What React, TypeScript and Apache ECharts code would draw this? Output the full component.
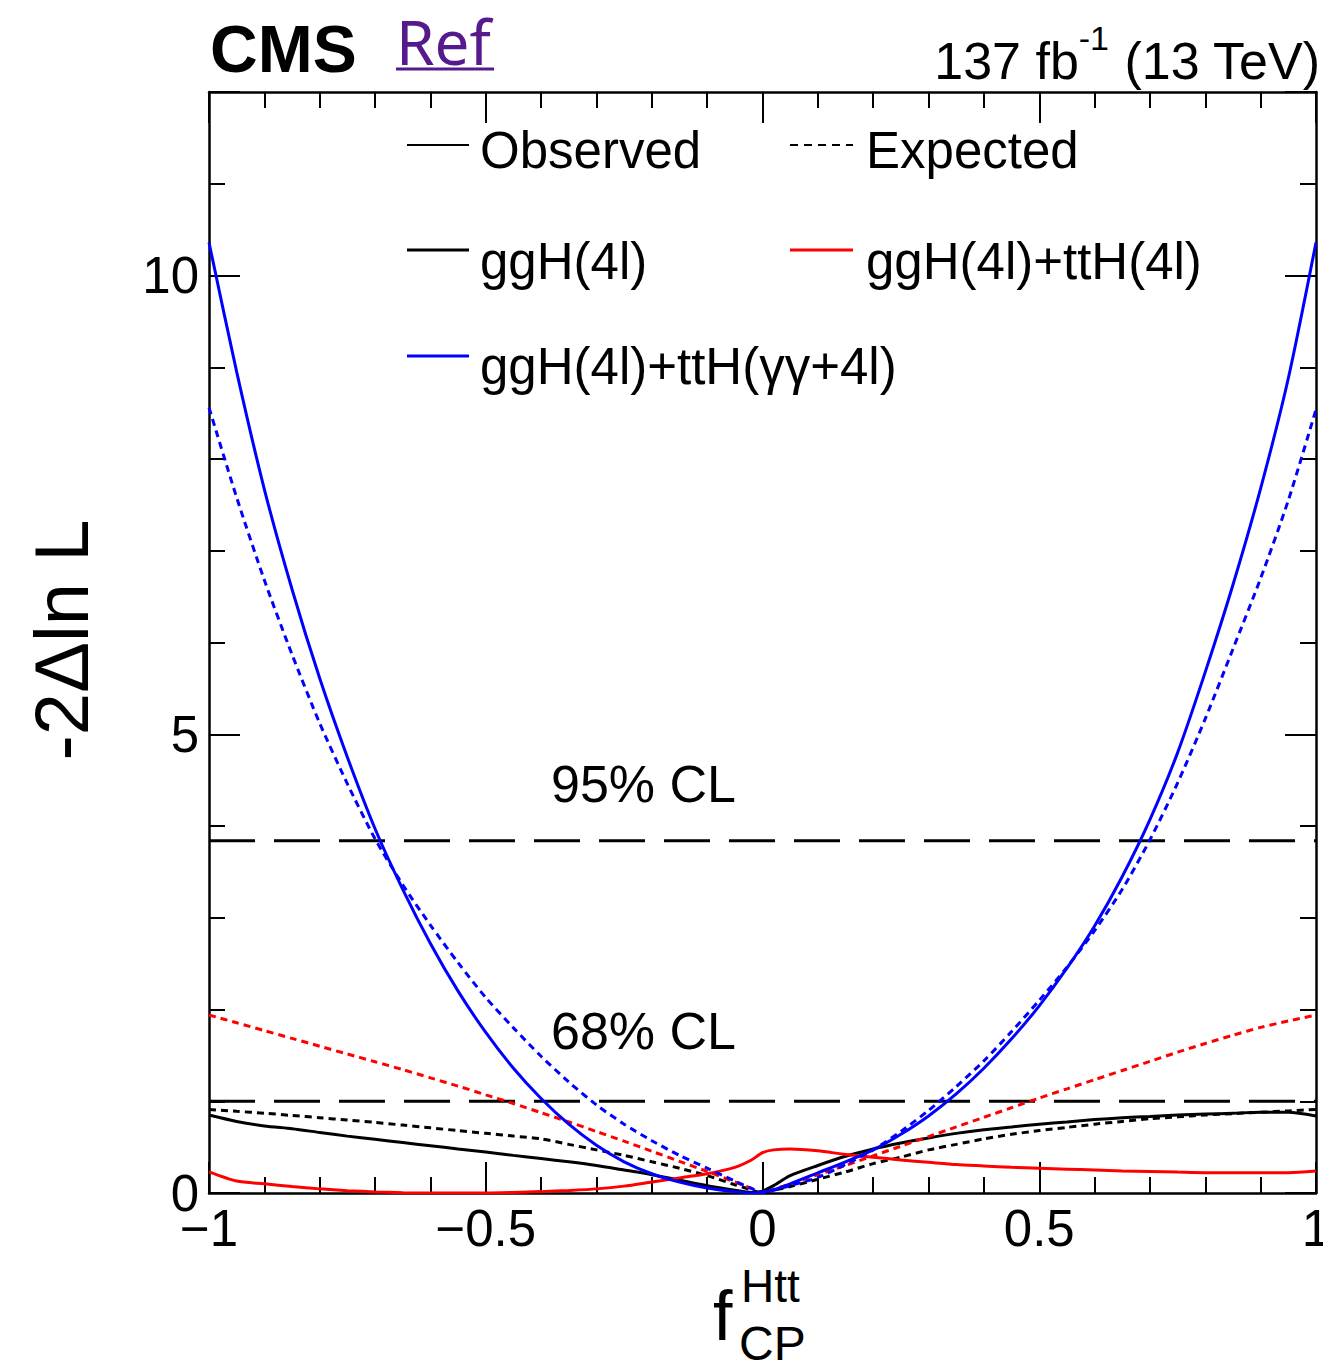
import React, { useEffect, useRef } from "react";
import * as echarts from "echarts";

// f_CP^Htt grid
const FCP = [
  -1, -0.95, -0.9, -0.85, -0.8, -0.75, -0.7, -0.65, -0.6, -0.55, -0.5, -0.45, -0.4, -0.35, -0.3, -0.25,
  -0.2, -0.15, -0.1, -0.05, -0.02, 0, 0.02, 0.05, 0.1, 0.15, 0.2, 0.25, 0.3, 0.35, 0.4, 0.45, 0.5, 0.55,
  0.6, 0.65, 0.7, 0.75, 0.8, 0.85, 0.9, 0.95, 1,
];

// ggH(4l) observed (black solid)
const OBS_GGH = [
  0.85, 0.78, 0.73, 0.7, 0.66, 0.62, 0.585, 0.55, 0.515, 0.48, 0.447, 0.41, 0.375, 0.34, 0.3, 0.25,
  0.2, 0.14, 0.08, 0.03, 0.005, 0.02, 0.08, 0.19, 0.3, 0.4, 0.48, 0.545, 0.6, 0.65, 0.69, 0.72, 0.75, 0.775,
  0.8, 0.82, 0.835, 0.85, 0.86, 0.87, 0.88, 0.88, 0.84,
];
// ggH(4l) expected (black dotted)
const EXP_GGH = [
  0.91, 0.89, 0.87, 0.845, 0.82, 0.795, 0.77, 0.74, 0.71, 0.68, 0.65, 0.62, 0.59, 0.53, 0.47, 0.41,
  0.34, 0.27, 0.19, 0.09, 0.035, 0, 0.03, 0.07, 0.15, 0.23, 0.32, 0.39, 0.47, 0.53, 0.59, 0.64, 0.68, 0.715,
  0.75, 0.78, 0.81, 0.83, 0.85, 0.865, 0.88, 0.895, 0.91,
];
// ggH(4l)+ttH(4l) observed (red solid)
const OBS_TTH4L = [
  0.23, 0.13, 0.1, 0.07, 0.045, 0.025, 0.012, 0.004, 0, 0, 0, 0.006, 0.015, 0.028, 0.045, 0.075,
  0.12, 0.165, 0.21, 0.28, 0.36, 0.44, 0.47, 0.48, 0.46, 0.42, 0.39, 0.36, 0.335, 0.31, 0.295, 0.28, 0.27, 0.26,
  0.25, 0.24, 0.235, 0.228, 0.222, 0.22, 0.22, 0.222, 0.24,
];
// ggH(4l)+ttH(4l) expected (red dotted)
const EXP_TTH4L = [
  1.94, 1.855, 1.77, 1.685, 1.6, 1.515, 1.43, 1.345, 1.255, 1.165, 1.07, 0.975, 0.875, 0.775, 0.67, 0.565,
  0.455, 0.345, 0.235, 0.12, 0.05, 0, 0.04, 0.1, 0.2, 0.3, 0.405, 0.51, 0.615, 0.72, 0.825, 0.93, 1.035, 1.135,
  1.235, 1.335, 1.435, 1.535, 1.63, 1.72, 1.805, 1.875, 1.94,
];
// ggH(4l)+ttH(γγ+4l) observed (blue solid)
const OBS_COMB = [
  10.36, 8.95, 7.67, 6.58, 5.61, 4.75, 3.97, 3.31, 2.72, 2.2, 1.75, 1.36, 1.03, 0.75, 0.52, 0.34,
  0.21, 0.12, 0.055, 0.015, 0, 0.01, 0.035, 0.1, 0.22, 0.34, 0.47, 0.64, 0.84, 1.08, 1.36, 1.68, 2.04, 2.45,
  2.91, 3.45, 4.07, 4.8, 5.68, 6.63, 7.68, 8.88, 10.36,
];
// ggH(4l)+ttH(γγ+4l) expected (blue dotted)
const EXP_COMB = [
  8.56, 7.58, 6.68, 5.87, 5.12, 4.46, 3.86, 3.36, 2.92, 2.51, 2.13, 1.8, 1.49, 1.21, 0.96, 0.75,
  0.57, 0.41, 0.27, 0.13, 0.05, 0, 0.03, 0.08, 0.17, 0.31, 0.47, 0.67, 0.9, 1.16, 1.44, 1.76, 2.1, 2.46,
  2.86, 3.31, 3.85, 4.47, 5.17, 5.93, 6.7, 7.55, 8.54,
];

const CL_LEVELS = [3.84, 1.0];
const CL_LABELS = ["95% CL", "68% CL"];
const X_TICKS = [-1, -0.5, 0, 0.5, 1];
const Y_TICKS = [0, 5, 10];

const FONT = "'Liberation Sans', Arial, Helvetica, sans-serif";

const pairs = (ys: number[]) => ys.map((y, i) => [FCP[i], y]);

export default function App() {
  const ref = useRef<HTMLDivElement>(null);

  useEffect(() => {
    document.body.style.margin = "0";
    const chart = echarts.init(ref.current!, null, { renderer: "svg" });

    const axisCommon = {
      type: "value",
      splitLine: { show: false },
      axisLine: { show: true, onZero: false, lineStyle: { color: "#000", width: 2.5 } },
      axisTick: { show: true, inside: true, length: 31, lineStyle: { color: "#000", width: 2 } },
      minorTick: { show: true, splitNumber: 5, length: 16, lineStyle: { color: "#000", width: 2 } },
    };

    const xLabel = {
      show: true,
      margin: 10,
      color: "#000",
      fontFamily: FONT,
      fontSize: 51,
      formatter: (v: number) =>
        X_TICKS.indexOf(v) < 0 ? "" : v < 0 ? "\u2212" + String(Math.abs(v)) : String(v),
    };
    const yLabel = {
      show: true,
      margin: 10,
      color: "#000",
      fontFamily: FONT,
      fontSize: 51,
      formatter: (v: number) => (Y_TICKS.indexOf(v) < 0 ? "" : String(v)),
    };

    const line = (data: number[], color: string, dashed: boolean, z: number) => ({
      type: "line",
      data: pairs(data),
      showSymbol: false,
      symbol: "none",
      smooth: 0.25,
      z,
      lineStyle: { color, width: 3, type: dashed ? [7, 5] : "solid" },
      silent: true,
    });

    const clSeries = CL_LEVELS.map((lv) => ({
      type: "line",
      data: [
        [-1, lv],
        [1, lv],
      ],
      showSymbol: false,
      symbol: "none",
      z: 1,
      lineStyle: { color: "#000", width: 3, type: [46, 19] },
      silent: true,
    }));

    const legendText = (x: number, y: number, text: string) => ({
      type: "text",
      x,
      y,
      style: { text, fill: "#000", fontFamily: FONT, fontSize: 51, align: "left", verticalAlign: "middle" },
    });
    const legendLine = (x1: number, x2: number, y: number, stroke: string, width: number, dash?: number[]) => ({
      type: "line",
      shape: { x1, y1: y, x2, y2: y },
      style: { stroke, lineWidth: width, lineDash: dash },
    });

    const option: any = {
      animation: false,
      backgroundColor: "#fff",
      grid: { left: 209, top: 92, right: 7, bottom: 175, containLabel: false, outerBoundsMode: "none" },
      xAxis: [
        { ...axisCommon, min: -1, max: 1, interval: 0.5, position: "bottom", axisLabel: xLabel },
        { ...axisCommon, min: -1, max: 1, interval: 0.5, position: "top", axisLabel: { show: false } },
      ],
      yAxis: [
        { ...axisCommon, min: 0, max: 12, interval: 5, position: "left", axisLabel: yLabel },
        { ...axisCommon, min: 0, max: 12, interval: 5, position: "right", axisLabel: { show: false } },
      ],
      series: [
        ...clSeries,
        line(OBS_GGH, "#000000", false, 3),
        line(EXP_GGH, "#000000", true, 3),
        line(OBS_TTH4L, "#ff0000", false, 4),
        line(EXP_TTH4L, "#ff0000", true, 4),
        line(OBS_COMB, "#0000ff", false, 5),
        line(EXP_COMB, "#0000ff", true, 5),
      ],
      graphic: [
        // header
        {
          type: "text",
          x: 210,
          y: 49,
          style: { text: "CMS", fill: "#000", fontFamily: FONT, fontWeight: "bold", fontSize: 66, align: "left", verticalAlign: "middle" },
        },
        {
          type: "text",
          x: 396,
          y: 41,
          style: { text: "Ref", fill: "#551A8B", fontFamily: "'Noto Sans', 'Open Sans', sans-serif", fontSize: 62, align: "left", verticalAlign: "middle" },
        },
        { type: "line", shape: { x1: 396, y1: 69, x2: 494, y2: 69 }, style: { stroke: "#551A8B", lineWidth: 3 } },
        {
          type: "text",
          x: 1320,
          y: 54,
          style: {
            text: "{n|137 fb}{s|-1}{n| (13 TeV)}",
            align: "right",
            verticalAlign: "middle",
            rich: {
              n: { fontFamily: FONT, fontSize: 52, fill: "#000", lineHeight: 66, verticalAlign: "bottom" },
              s: { fontFamily: FONT, fontSize: 34, fill: "#000", lineHeight: 66, verticalAlign: "top" },
            },
          },
        },
        // legend
        legendLine(407, 469, 145, "#000", 2),
        legendText(480, 150, "Observed"),
        legendLine(790, 853, 145, "#000", 2, [8, 6]),
        legendText(866, 150, "Expected"),
        legendLine(407, 469, 250, "#000", 3),
        legendText(480, 261, "ggH(4l)"),
        legendLine(790, 853, 250, "#ff0000", 3),
        legendText(866, 261, "ggH(4l)+ttH(4l)"),
        legendLine(407, 469, 356, "#0000ff", 3),
        legendText(480, 366, "ggH(4l)+ttH(\u03b3\u03b3+4l)"),
        // CL labels
        {
          type: "text",
          x: 551,
          y: 784,
          style: { text: CL_LABELS[0], fill: "#000", fontFamily: FONT, fontSize: 52, align: "left", verticalAlign: "middle" },
        },
        {
          type: "text",
          x: 551,
          y: 1031,
          style: { text: CL_LABELS[1], fill: "#000", fontFamily: FONT, fontSize: 52, align: "left", verticalAlign: "middle" },
        },
        // y axis title
        {
          type: "text",
          x: 61,
          y: 640,
          rotation: Math.PI / 2,
          style: { text: "-2\u0394ln L", fill: "#000", fontFamily: FONT, fontSize: 76, align: "center", verticalAlign: "middle" },
        },
        // x axis title
        {
          type: "text",
          x: 713,
          y: 1316,
          style: { text: "f", fill: "#000", fontFamily: FONT, fontSize: 70, align: "left", verticalAlign: "middle" },
        },
        {
          type: "text",
          x: 741,
          y: 1286,
          style: { text: "Htt", fill: "#000", fontFamily: FONT, fontSize: 46, align: "left", verticalAlign: "middle" },
        },
        {
          type: "text",
          x: 739,
          y: 1343,
          style: { text: "CP", fill: "#000", fontFamily: FONT, fontSize: 48, align: "left", verticalAlign: "middle" },
        },
      ],
    };

    chart.setOption(option);
    return () => chart.dispose();
  }, []);

  return <div ref={ref} style={{ width: 1323, height: 1368 }} />;
}
